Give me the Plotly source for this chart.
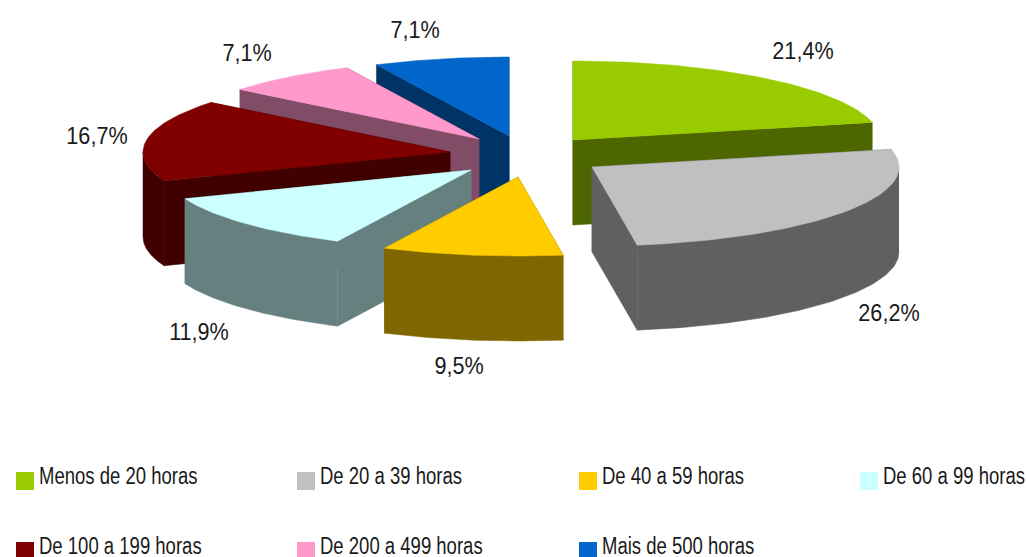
import numpy as np
import plotly.graph_objects as go

categories = ["Menos de 20 horas", "De 20 a 39 horas", "De 40 a 59 horas", "De 60 a 99 horas",
              "De 100 a 199 horas", "De 200 a 499 horas", "Mais de 500 horas"]
values = [21.4, 26.2, 9.5, 11.9, 16.7, 7.1, 7.1]
top_colors = ["#99cc00", "#c0c0c0", "#ffcc00", "#ccffff", "#800000", "#ff99cc", "#0066cc"]
side_colors = ["#4d6600", "#606060", "#806600", "#668080", "#400000", "#804c66", "#003366"]

# pie geometry (chart units = page pixels)
CX, CY, RX, RY, DEPTH = 515, 157, 307, 79, 85
explode_x = [58, 77, 3, -44, -65, -36, -6]
explode_y = [-17, 10, 20, 13, -5, -18, -21]
draw_order = [6, 5, 4, 3, 0, 1, 2]
label_x = [803, 889, 459, 199, 97, 247, 415]
label_y = [53, 315, 368, 334, 138, 55, 32]
legend_x = [16, 297, 579, 860, 16, 297, 579]
legend_y = [481, 481, 481, 481, 551, 551, 551]
FONT = "Liberation Sans, Arial, sans-serif"

fracs = np.array(values) / sum(values)
edges = np.concatenate([[0], np.cumsum(fracs)]) * 2 * np.pi

fig = go.Figure()


def poly(xs, ys, color):
    fig.add_trace(go.Scatter(x=list(xs), y=list(ys), mode="lines", fill="toself", fillcolor=color,
                             line=dict(width=0.5, color=color), hoverinfo="skip", showlegend=False))


for i in draw_order:
    ax, ay = CX + explode_x[i], CY + explode_y[i]
    t = np.linspace(edges[i], edges[i + 1], 60)
    ex = ax + RX * np.sin(t)
    ey = ay - RY * np.cos(t)
    # cut faces
    for k in (0, -1):
        poly([ax, ex[k], ex[k], ax, ax], [ay, ey[k], ey[k] + DEPTH, ay + DEPTH, ay], side_colors[i])
    # outer wall: only the part of the rim that faces the viewer
    lo, hi = max(edges[i], np.pi / 2), min(edges[i + 1], 1.5 * np.pi)
    if hi > lo:
        w = np.linspace(lo, hi, 60)
        wx = ax + RX * np.sin(w)
        wy = ay - RY * np.cos(w)
        poly(np.concatenate([wx, wx[::-1]]), np.concatenate([wy, wy[::-1] + DEPTH]), side_colors[i])
    # top
    poly(np.concatenate([[ax], ex, [ax]]), np.concatenate([[ay], ey, [ay]]), top_colors[i])

fig.add_trace(go.Scatter(
    x=label_x, y=label_y, mode="text",
    text=[f"{v:.1f}%".replace(".", ",") for v in values],
    textposition="middle center", textfont=dict(family=FONT, size=24, color="#1a1a1a"),
    hoverinfo="skip", showlegend=False))

fig.add_trace(go.Scatter(
    x=[x + 9 for x in legend_x], y=legend_y, mode="markers",
    marker=dict(symbol="square", size=18, color=top_colors, line=dict(width=0)),
    hoverinfo="skip", showlegend=False, cliponaxis=False))
fig.add_trace(go.Scatter(
    x=[x + 23 for x in legend_x], y=[y - 3 for y in legend_y], mode="text", text=categories,
    textposition="middle right", textfont=dict(family=FONT, size=23, color="#1a1a1a"),
    hoverinfo="skip", showlegend=False, cliponaxis=False))

fig.update_layout(
    width=1027, height=557, margin=dict(l=0, r=0, t=0, b=0),
    paper_bgcolor="white", plot_bgcolor="white", showlegend=False,
    xaxis=dict(range=[0, 1027], visible=False, fixedrange=True),
    yaxis=dict(range=[557, 0], visible=False, fixedrange=True),
)

# page has no margin; the reference's text is condensed, so narrow the real text glyphs
post = """
document.body.style.margin = '0';
document.querySelectorAll('.textpoint text').forEach(function (el) {
  var size = parseFloat(el.style.fontSize);
  var ratio = size >= 24 ? 0.9 : 0.805;
  el.setAttribute('lengthAdjust', 'spacingAndGlyphs');
  el.setAttribute('textLength', el.getComputedTextLength() * ratio);
});
"""
fig.write_html("out.html", config=dict(displayModeBar=False), post_script=post)
